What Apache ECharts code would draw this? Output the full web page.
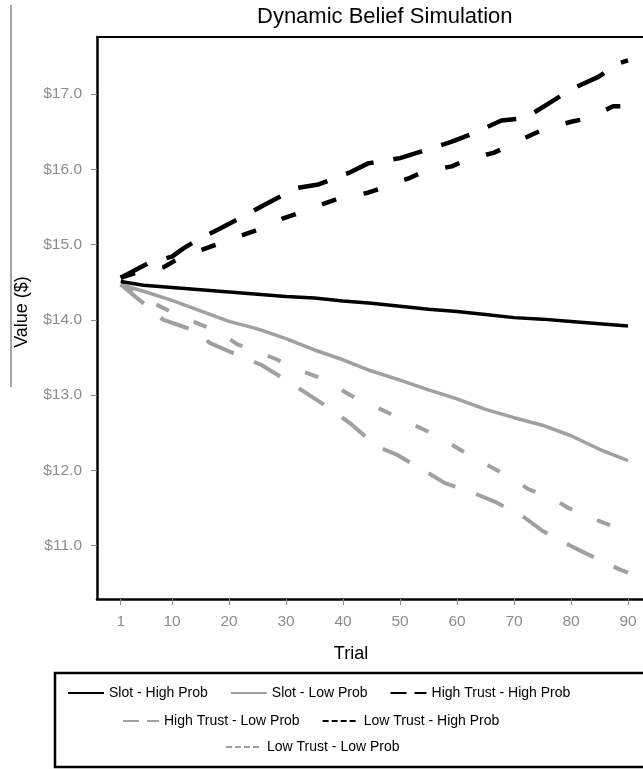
<!DOCTYPE html>
<html>
<head>
<meta charset="utf-8">
<script src="https://cdn.jsdelivr.net/npm/echarts@6/dist/echarts.min.js"></script>
<style>
  html, body { margin: 0; padding: 0; background: #fff; }
  #chart { width: 643px; height: 769px; }
</style>
</head>
<body>
<div id="chart"></div>
<script>
// ---- data ----
const xTickValues = [1, 10, 20, 30, 40, 50, 60, 70, 80, 90];
const yTickValues = [11, 12, 13, 14, 15, 16, 17];

const slotHighTrials = [1, 5, 10, 15, 20, 25, 30, 35, 40, 45, 50, 55, 60, 65, 70, 75, 80, 85, 90];
const slotHighValues = [14.51, 14.46, 14.43, 14.40, 14.37, 14.34, 14.31, 14.29, 14.25, 14.22, 14.18, 14.14, 14.11, 14.07, 14.03, 14.01, 13.98, 13.95, 13.92];

const slotLowTrials = [1, 5, 10, 15, 20, 25, 30, 35, 40, 45, 50, 55, 60, 65, 70, 75, 80, 85, 90];
const slotLowValues = [14.47, 14.38, 14.26, 14.12, 13.98, 13.88, 13.75, 13.60, 13.47, 13.32, 13.20, 13.07, 12.95, 12.81, 12.70, 12.60, 12.46, 12.28, 12.13];

const highTrustHighTrials = [1, 6, 10, 12, 14.6, 18.1, 23.1, 26, 29, 31.6, 35.7, 40.9, 44.4, 50, 53.8, 59.1, 62.9, 67.8, 71.9, 76.6, 79.9, 84.8, 88.3, 90];
const highTrustHighValues = [14.56, 14.76, 14.84, 14.95, 15.07, 15.20, 15.40, 15.52, 15.64, 15.75, 15.80, 15.95, 16.08, 16.15, 16.24, 16.37, 16.48, 16.65, 16.68, 16.90, 17.06, 17.23, 17.41, 17.45];

const lowTrustHighTrials = [1, 5, 8.5, 10.8, 15.2, 17.8, 22.5, 25.1, 29.5, 32.2, 36.8, 39.5, 44.4, 47.1, 51.5, 54.1, 59.1, 61.7, 66.4, 68.7, 73.1, 75.7, 80.4, 83, 87.4, 90];
const lowTrustHighValues = [14.56, 14.66, 14.70, 14.80, 14.93, 15.00, 15.13, 15.20, 15.35, 15.42, 15.55, 15.62, 15.69, 15.76, 15.88, 15.97, 16.04, 16.13, 16.22, 16.30, 16.46, 16.55, 16.64, 16.68, 16.84, 16.84];

const highTrustLowTrials = [1, 5.3, 8.5, 13.5, 16.7, 21.9, 25.7, 29.8, 33.9, 38.3, 41.5, 45.9, 49.4, 54.4, 57.9, 62.9, 67, 71.9, 75.1, 80.1, 83.6, 88.6, 90];
const highTrustLowValues = [14.47, 14.20, 14.00, 13.87, 13.69, 13.52, 13.40, 13.21, 13.01, 12.79, 12.61, 12.32, 12.21, 11.99, 11.83, 11.70, 11.57, 11.37, 11.19, 10.99, 10.86, 10.68, 10.64];

const lowTrustLowTrials = [1, 5, 7.9, 10.3, 14.9, 17.5, 21.6, 24.3, 28.5, 31.3, 36, 38.3, 42.7, 45.3, 49.7, 52.3, 56.7, 59.1, 63.5, 65.8, 70.2, 72.5, 77.2, 79.5, 84.2, 86.5, 90];
const lowTrustLowValues = [14.47, 14.28, 14.18, 14.09, 13.94, 13.87, 13.67, 13.60, 13.47, 13.36, 13.23, 13.13, 12.94, 12.86, 12.70, 12.61, 12.45, 12.34, 12.14, 12.05, 11.87, 11.75, 11.61, 11.50, 11.35, 11.28, 11.18];

const seriesNames = ['Slot - High Prob', 'Slot - Low Prob', 'High Trust - High Prob', 'High Trust - Low Prob', 'Low Trust - High Prob', 'Low Trust - Low Prob'];

// ---- chart ----
const FONT = '"Liberation Sans", Arial, Helvetica, sans-serif';
const BLACK = '#000000';
const GRAY = '#a0a0a0';
const LABEL_GRAY = '#8c8c8c';

function pairs(ts, vs) { return ts.map((t, i) => [t, vs[i]]); }

function mkSeries(name, ts, vs, color, width, dash) {
  return {
    name: name, type: 'line', xAxisIndex: 0, yAxisIndex: 0,
    data: pairs(ts, vs), symbol: 'none', smooth: false, silent: true,
    lineStyle: { color: color, width: width, type: dash, cap: 'butt', join: 'round' },
    itemStyle: { color: color },
    emphasis: { disabled: true }
  };
}

const LONG_LEG = [16, 8];
const SHORT_LEG = [6, 3];

function legendRow(names, left, top) {
  return {
    show: true, left: left, top: top, orient: 'horizontal',
    itemWidth: 36, itemHeight: 14, itemGap: 22, padding: 0,
    selectedMode: false,
    itemStyle: { opacity: 0 },
    textStyle: { color: '#000', fontSize: 14, fontFamily: FONT },
    data: names.map(n => {
      const o = { name: n };
      if (n.indexOf('High Trust') === 0) o.lineStyle = { type: LONG_LEG };
      if (n.indexOf('Low Trust') === 0) o.lineStyle = { type: SHORT_LEG };
      return o;
    })
  };
}

const X_MIN = -3.16, X_MAX = 92.63, Y_MIN = 10.29, Y_MAX = 17.76;

const option = {
  animation: false,
  backgroundColor: '#ffffff',
  title: {
    text: 'Dynamic Belief Simulation',
    left: 252, top: 1,
    textStyle: { color: '#000', fontSize: 22, fontWeight: 'normal', fontFamily: FONT }
  },
  legend: [
    legendRow([seriesNames[0], seriesNames[1], seriesNames[2]], 67, 686),
    legendRow([seriesNames[3], seriesNames[4]], 122, 714),
    legendRow([seriesNames[5]], 225, 740)
  ],
  grid: { left: 97, top: 37, right: 0, bottom: 170, containLabel: false },
  xAxis: [
    {
      type: 'value', min: X_MIN, max: X_MAX, position: 'bottom',
      name: 'Trial', nameLocation: 'middle', nameGap: 46,
      nameTextStyle: { color: '#000', fontSize: 18, fontFamily: FONT, padding: [0, 38, 0, 0] },
      axisLine: { show: true, onZero: false, lineStyle: { color: BLACK, width: 2.5 } },
      axisTick: { show: true, length: 6, customValues: xTickValues, lineStyle: { color: LABEL_GRAY, width: 1 } },
      axisLabel: { show: true, customValues: xTickValues, margin: 15, color: LABEL_GRAY, fontSize: 15.5, fontFamily: FONT },
      splitLine: { show: false }
    },
    {
      type: 'value', min: X_MIN, max: X_MAX, position: 'top',
      axisLine: { show: true, onZero: false, lineStyle: { color: BLACK, width: 2 } },
      axisTick: { show: false }, axisLabel: { show: false }, splitLine: { show: false }
    }
  ],
  yAxis: {
    type: 'value', min: Y_MIN, max: Y_MAX,
    name: 'Value ($)', nameLocation: 'middle', nameGap: 66,
    nameTextStyle: { color: '#000', fontSize: 18, fontFamily: FONT, padding: [0, 0, 0, 12] },
    axisLine: { show: true, onZero: false, lineStyle: { color: BLACK, width: 2.5 } },
    axisTick: { show: true, length: 6, customValues: yTickValues, lineStyle: { color: LABEL_GRAY, width: 1 } },
    axisLabel: {
      show: true, customValues: yTickValues, margin: 15, color: LABEL_GRAY, fontSize: 15.5, fontFamily: FONT,
      formatter: v => '$' + Number(v).toFixed(1)
    },
    splitLine: { show: false }
  },
  graphic: [
    { type: 'line', silent: true, shape: { x1: 11, y1: 5, x2: 11, y2: 387 }, style: { stroke: '#888', lineWidth: 1.5 } },
    { type: 'rect', silent: true, shape: { x: 55, y: 673, width: 640, height: 94 }, style: { fill: 'none', stroke: '#000', lineWidth: 2.5 } }
  ],
  series: [
    mkSeries(seriesNames[3], highTrustLowTrials, highTrustLowValues, GRAY, 4, [30, 22]),
    mkSeries(seriesNames[5], lowTrustLowTrials, lowTrustLowValues, GRAY, 4, [14, 27]),
    mkSeries(seriesNames[1], slotLowTrials, slotLowValues, GRAY, 3.5, 'solid'),
    mkSeries(seriesNames[0], slotHighTrials, slotHighValues, BLACK, 3.5, 'solid'),
    mkSeries(seriesNames[2], highTrustHighTrials, highTrustHighValues, BLACK, 4.5, [30, 20]),
    mkSeries(seriesNames[4], lowTrustHighTrials, lowTrustHighValues, BLACK, 4.5, [15, 28])
  ]
};

const chart = echarts.init(document.getElementById('chart'), null, { renderer: 'canvas' });
chart.setOption(option);
</script>
</body>
</html>
